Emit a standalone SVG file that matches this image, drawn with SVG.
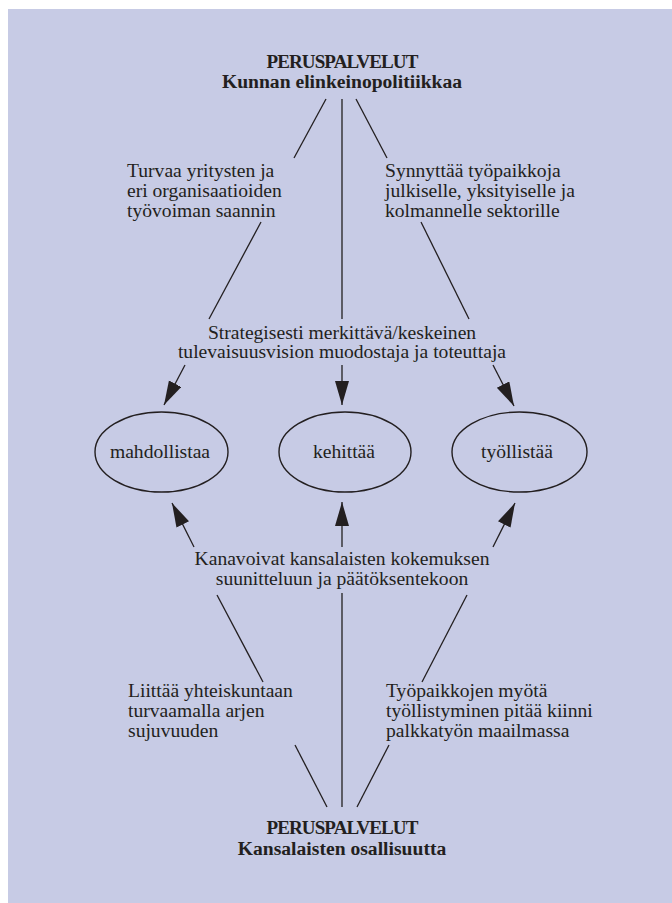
<svg xmlns="http://www.w3.org/2000/svg" width="672" height="903" viewBox="0 0 672 903">
  <style>
    .t { font-family: "Liberation Serif", "Times New Roman", serif; font-size: 19.6px; fill: #231f20; }
    .b { font-weight: bold; }
    .cap { font-size: 19px; letter-spacing: -0.9px; }
    .m { text-anchor: middle; }
    .ln { stroke: #231f20; stroke-width: 1.3; fill: none; }
    .el { stroke: #231f20; stroke-width: 1.4; fill: none; }
  </style>
  <defs>
    <marker id="ah" markerUnits="userSpaceOnUse" markerWidth="26" markerHeight="16" refX="24" refY="7" orient="auto">
      <path d="M0,0 L24,7 L0,14 Z" fill="#231f20"/>
    </marker>
  </defs>
  <rect x="0" y="0" width="672" height="903" fill="#ffffff"/>
  <rect x="8" y="9" width="664" height="894" fill="#c7cbe5"/>

  <g id="connectors">
    <line class="ln" x1="326" y1="99" x2="294" y2="158"/>
    <line class="ln" x1="261" y1="222" x2="209" y2="319"/>
    <line class="ln" x1="185" y1="365" x2="164" y2="405" marker-end="url(#ah)"/>
    <line class="ln" x1="342" y1="99" x2="342" y2="319"/>
    <line class="ln" x1="342" y1="365" x2="342" y2="405" marker-end="url(#ah)"/>
    <line class="ln" x1="356" y1="99" x2="387" y2="158"/>
    <line class="ln" x1="421" y1="222" x2="469" y2="319"/>
    <line class="ln" x1="493" y1="365" x2="514" y2="406" marker-end="url(#ah)"/>
    <line class="ln" x1="194" y1="547" x2="172" y2="503" marker-end="url(#ah)"/>
    <line class="ln" x1="217" y1="595" x2="263" y2="682"/>
    <line class="ln" x1="295" y1="745" x2="327" y2="807"/>
    <line class="ln" x1="342" y1="547" x2="342" y2="502" marker-end="url(#ah)"/>
    <line class="ln" x1="342" y1="593" x2="342" y2="807"/>
    <line class="ln" x1="493" y1="547" x2="515" y2="503" marker-end="url(#ah)"/>
    <line class="ln" x1="467" y1="595" x2="422" y2="682"/>
    <line class="ln" x1="389" y1="745" x2="357" y2="807"/>
  </g>

  <g id="top-title">
    <text class="t b m cap" x="342" y="68">PERUSPALVELUT</text>
    <text class="t b m" x="342" y="88">Kunnan elinkeinopolitiikkaa</text>
  </g>

  <g id="label-turvaa">
    <text class="t" x="127" y="177">Turvaa yritysten ja</text>
    <text class="t" x="127" y="197">eri organisaatioiden</text>
    <text class="t" x="127" y="217">työvoiman saannin</text>
  </g>

  <g id="label-synnyttaa">
    <text class="t" x="385" y="177">Synnyttää työpaikkoja</text>
    <text class="t" x="385" y="197">julkiselle, yksityiselle ja</text>
    <text class="t" x="385" y="217">kolmannelle sektorille</text>
  </g>

  <g id="label-strategisesti">
    <text class="t m" x="342" y="339">Strategisesti merkittävä/keskeinen</text>
    <text class="t m" x="342" y="358">tulevaisuusvision muodostaja ja toteuttaja</text>
  </g>

  <g id="node-mahdollistaa">
    <ellipse class="el" cx="161.5" cy="452" rx="66.5" ry="40"/>
    <text class="t m" x="160" y="458">mahdollistaa</text>
  </g>

  <g id="node-kehittaa">
    <ellipse class="el" cx="345" cy="452" rx="66" ry="40"/>
    <text class="t m" x="344" y="458">kehittää</text>
  </g>

  <g id="node-tyollistaa">
    <ellipse class="el" cx="519.5" cy="452" rx="67.5" ry="40"/>
    <text class="t m" x="517" y="458">työllistää</text>
  </g>

  <g id="label-kanavoivat">
    <text class="t m" x="342" y="565">Kanavoivat kansalaisten kokemuksen</text>
    <text class="t m" x="342" y="585">suunitteluun ja päätöksentekoon</text>
  </g>

  <g id="label-liittaa">
    <text class="t" x="128" y="697">Liittää yhteiskuntaan</text>
    <text class="t" x="128" y="717">turvaamalla arjen</text>
    <text class="t" x="128" y="737">sujuvuuden</text>
  </g>

  <g id="label-tyopaikkojen">
    <text class="t" x="386" y="697">Työpaikkojen myötä</text>
    <text class="t" x="386" y="717">työllistyminen pitää kiinni</text>
    <text class="t" x="386" y="737">palkkatyön maailmassa</text>
  </g>

  <g id="bottom-title">
    <text class="t b m cap" x="342" y="834">PERUSPALVELUT</text>
    <text class="t b m" x="342" y="855">Kansalaisten osallisuutta</text>
  </g>
</svg>
